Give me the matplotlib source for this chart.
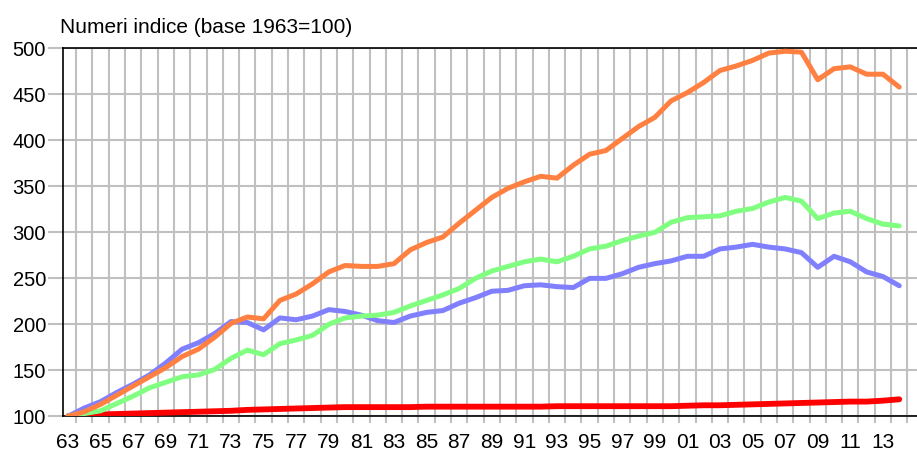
import numpy as np
import matplotlib.pyplot as plt
from matplotlib.ticker import FixedLocator

plt.rcParams['font.family'] = ['Liberation Sans', 'DejaVu Sans']

# anni 1963-2014
years = list(range(1963, 2015))
year_labels = ['%02d' % (y % 100) for y in years[::2]]

# numeri indice, base 1963=100
orange = [100, 105, 113, 123, 133, 143, 153, 165, 173, 186,
          201, 208, 206, 226, 233, 244, 257, 264, 263, 263,
          266, 281, 289, 295, 310, 324, 338, 348, 355, 361,
          359, 373, 385, 389, 402, 415, 425, 443, 452, 463,
          476, 481, 487, 495, 497, 496, 466, 478, 480, 472,
          472, 458]
green = [100, 103, 106, 114, 122, 131, 137, 143, 145, 151,
         163, 172, 167, 179, 183, 188, 200, 207, 209, 210,
         213, 220, 226, 232, 239, 250, 258, 263, 268, 271,
         268, 274, 282, 285, 291, 296, 300, 311, 316, 317,
         318, 323, 326, 333, 338, 334, 315, 321, 323, 315,
         309, 307]
blue = [100, 109, 116, 126, 135, 145, 158, 173, 180, 190,
        203, 202, 194, 207, 205, 209, 216, 214, 210, 204,
        202, 209, 213, 215, 223, 229, 236, 237, 242, 243,
        241, 240, 250, 250, 255, 262, 266, 269, 274, 274,
        282, 284, 287, 284, 282, 278, 262, 274, 268, 257,
        252, 242]
red = [100, 101, 102, 102.5, 103, 103.5, 104, 104.5, 105, 105.5,
       106, 107, 107.5, 108, 108.5, 109, 109.5, 110, 110, 110,
       110, 110, 110.5, 110.5, 110.5, 110.5, 110.5, 110.5, 110.5, 110.5,
       111, 111, 111, 111, 111, 111, 111, 111, 111.5, 112,
       112, 112.5, 113, 113.5, 114, 114.5, 115, 115.5, 116, 116,
       117, 118.5]

x = np.arange(len(years))

fig = plt.figure(figsize=(9.17, 4.53), dpi=100)
ax = fig.add_axes([0.069, 0.081, 0.931, 0.812])

ax.plot(x, red, color='#ff0000', lw=4.2, solid_capstyle='round', zorder=3)
ax.plot(x, blue, color='#8080ff', lw=3.6, solid_capstyle='round', zorder=4)
ax.plot(x, green, color='#80ff80', lw=3.6, solid_capstyle='round', zorder=4)
ax.plot(x, orange, color='#ff8040', lw=3.6, solid_capstyle='round', zorder=5)

ax.set_xlim(-0.29, 52.09)
ax.set_ylim(100, 500)

ax.set_xticks(x[::2])
ax.set_xticklabels(year_labels)
ax.xaxis.set_minor_locator(FixedLocator(np.arange(-0.5, len(years) + 1, 1)))
ax.tick_params(axis='x', which='major', length=0, pad=12, labelsize=15)
ax.tick_params(axis='x', which='minor', length=5, width=1.5, color='#c0c0c0')
ax.set_yticks(range(100, 501, 50))
ax.tick_params(axis='y', length=11, width=1.5, color='#c0c0c0', pad=1.5, labelsize=14.5)

ax.grid(axis='x', which='minor', color='#c0c0c0', lw=1.5, zorder=1)
ax.grid(axis='y', which='major', color='#c0c0c0', lw=1.5, zorder=1)
ax.set_axisbelow(True)

for s in ['left', 'bottom', 'top']:
    ax.spines[s].set_color('black')
    ax.spines[s].set_linewidth(1.2)
ax.spines['right'].set_visible(False)

fig.text(0.0654, 0.927, 'Numeri indice (base 1963=100)', fontsize=15,
         ha='left', va='baseline')

fig.savefig('out.png', dpi=100)
